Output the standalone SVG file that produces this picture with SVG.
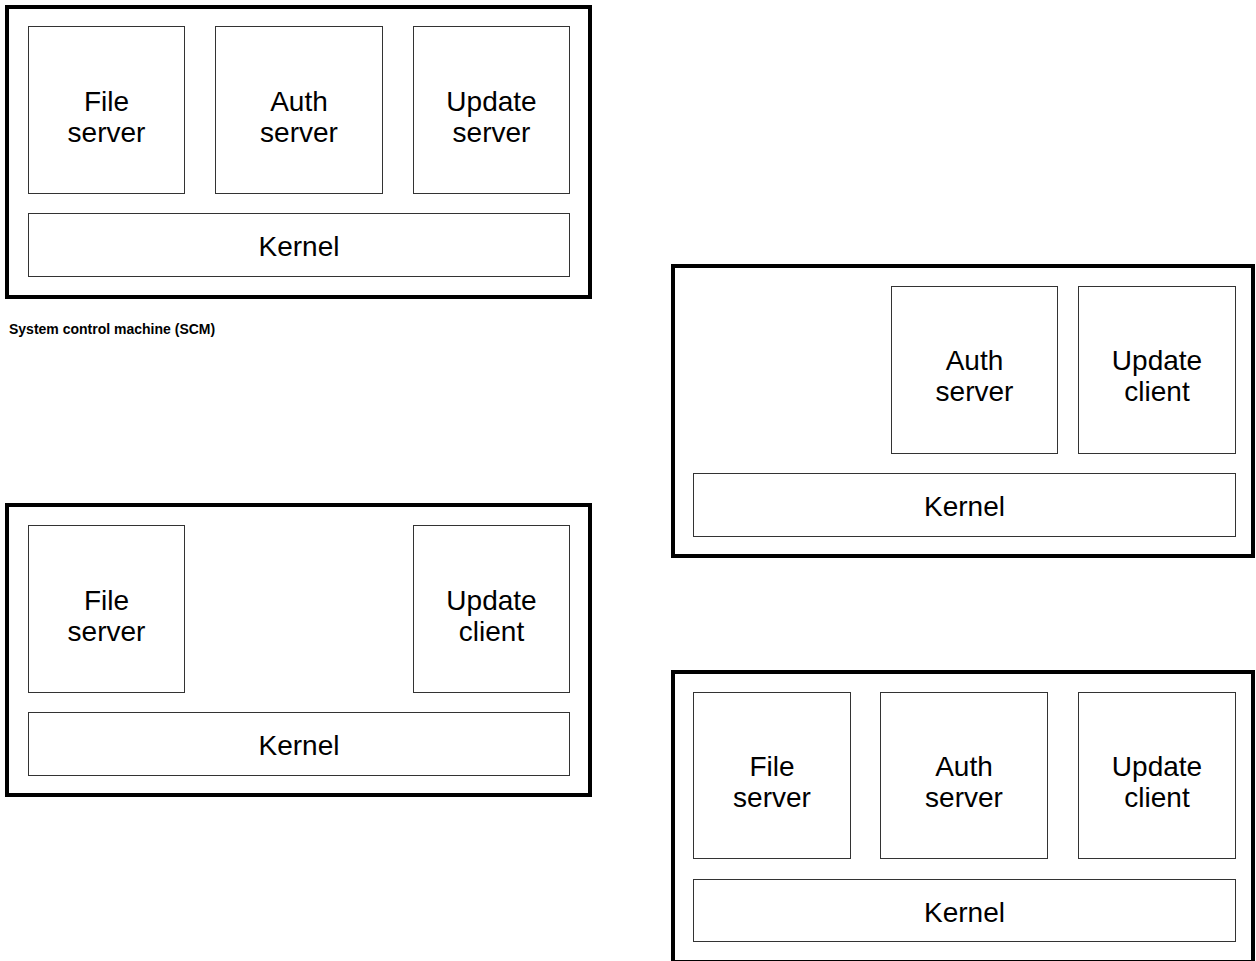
<svg xmlns="http://www.w3.org/2000/svg" width="1256" height="961" viewBox="0 0 1256 961">
<style>
.outer{fill:#fff;stroke:#000;stroke-width:4}
.inner{fill:#fff;stroke:#333;stroke-width:1}
.t{font-family:"Liberation Sans",Arial,sans-serif;font-size:28px;fill:#000;text-anchor:middle}
.cap{font-family:"Liberation Sans",Arial,sans-serif;font-size:14px;font-weight:bold;fill:#000}
</style>
<rect width="1256" height="961" fill="#fff"/>
<g id="scm">
  <rect class="outer" x="7" y="7" width="583" height="290"/>
  <g id="scm-file"><rect class="inner" x="28.5" y="26.5" width="156" height="167"/><text class="t" x="106.5" y="111">File</text><text class="t" x="106.5" y="142">server</text></g>
  <g id="scm-auth"><rect class="inner" x="215.5" y="26.5" width="167" height="167"/><text class="t" x="299" y="111">Auth</text><text class="t" x="299" y="142">server</text></g>
  <g id="scm-update"><rect class="inner" x="413.5" y="26.5" width="156" height="167"/><text class="t" x="491.5" y="111">Update</text><text class="t" x="491.5" y="142">server</text></g>
  <g id="scm-kernel"><rect class="inner" x="28.5" y="213.5" width="541" height="63"/><text class="t" x="299" y="256">Kernel</text></g>
  <text class="cap" x="9" y="334">System control machine (SCM)</text>
</g>
<g id="m2">
  <rect class="outer" x="673" y="266" width="580" height="290"/>
  <g id="m2-auth"><rect class="inner" x="891.5" y="286.5" width="166" height="167"/><text class="t" x="974.5" y="370">Auth</text><text class="t" x="974.5" y="401">server</text></g>
  <g id="m2-update"><rect class="inner" x="1078.5" y="286.5" width="157" height="167"/><text class="t" x="1157" y="370">Update</text><text class="t" x="1157" y="401">client</text></g>
  <g id="m2-kernel"><rect class="inner" x="693.5" y="473.5" width="542" height="63"/><text class="t" x="964.5" y="516">Kernel</text></g>
</g>
<g id="m3">
  <rect class="outer" x="7" y="505" width="583" height="290"/>
  <g id="m3-file"><rect class="inner" x="28.5" y="525.5" width="156" height="167"/><text class="t" x="106.5" y="610">File</text><text class="t" x="106.5" y="641">server</text></g>
  <g id="m3-update"><rect class="inner" x="413.5" y="525.5" width="156" height="167"/><text class="t" x="491.5" y="610">Update</text><text class="t" x="491.5" y="641">client</text></g>
  <g id="m3-kernel"><rect class="inner" x="28.5" y="712.5" width="541" height="63"/><text class="t" x="299" y="755">Kernel</text></g>
</g>
<g id="m4">
  <rect class="outer" x="673" y="672" width="580" height="290"/>
  <g id="m4-file"><rect class="inner" x="693.5" y="692.5" width="157" height="166"/><text class="t" x="772" y="776">File</text><text class="t" x="772" y="807">server</text></g>
  <g id="m4-auth"><rect class="inner" x="880.5" y="692.5" width="167" height="166"/><text class="t" x="964" y="776">Auth</text><text class="t" x="964" y="807">server</text></g>
  <g id="m4-update"><rect class="inner" x="1078.5" y="692.5" width="157" height="166"/><text class="t" x="1157" y="776">Update</text><text class="t" x="1157" y="807">client</text></g>
  <g id="m4-kernel"><rect class="inner" x="693.5" y="879.5" width="542" height="62"/><text class="t" x="964.5" y="922">Kernel</text></g>
</g>
<g id="connectors"/>
</svg>
